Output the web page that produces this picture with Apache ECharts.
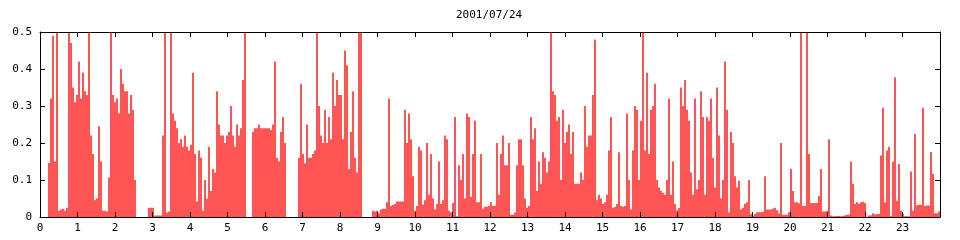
<!DOCTYPE html>
<html>
<head>
<meta charset="utf-8">
<script src="https://cdn.jsdelivr.net/npm/echarts@6/dist/echarts.min.js"></script>
<style>
html,body{margin:0;padding:0;background:#fff;}
#chart{width:960px;height:240px;}
</style>
</head>
<body>
<div id="chart"></div>
<script>
// Title / axis text
const chartTitle = '2001/07/24';
const xTickLabels = ['0','1','2','3','4','5','6','7','8','9','10','11','12','13','14','15','16','17','18','19','20','21','22','23'];
const yMin = 0, yMax = 0.5, yStep = 0.1;

// Values: 450 consecutive samples over 24 hours (3.2 min each)
const values = [
  0,0,0,0,0.146,0.32,0.49,0.15,0.5,0.017,
  0.02,0.022,0.017,0.025,0.5,0.47,0.35,0.31,0.33,0.42,
  0.32,0.39,0.34,0.33,0.5,0.22,0.17,0.045,0.05,0.245,
  0.15,0.017,0.017,0.015,0.107,0.5,0.33,0.31,0.32,0.28,
  0.4,0.36,0.34,0.34,0.28,0.33,0.29,0.1,0,0,
  0,0,0,0,0.025,0.025,0.025,0.004,0.004,0.004,
  0.004,0.22,0.5,0.012,0.015,0.5,0.28,0.26,0.24,0.2,
  0.21,0.19,0.22,0.19,0.18,0.195,0.39,0.17,0.042,0.18,
  0.16,0.017,0.1,0.049,0.19,0.07,0.13,0.12,0.34,0.25,
  0.22,0.22,0.2,0.22,0.23,0.3,0.22,0.19,0.25,0.22,
  0.24,0.37,0.5,0,0,0,0.23,0.24,0.24,0.25,
  0.24,0.24,0.24,0.24,0.24,0.235,0.25,0.42,0.16,0.15,
  0.23,0.27,0.2,0,0,0,0,0,0,0.16,
  0.36,0.17,0.145,0.25,0.16,0.16,0.17,0.18,0.5,0.3,
  0.22,0.2,0.29,0.2,0.27,0.21,0.39,0.3,0.37,0.33,
  0.33,0.21,0.45,0.41,0.13,0.23,0.34,0.16,0.12,0.5,
  0.5,0,0,0,0,0,0.017,0.015,0.017,0.01,
  0.02,0.022,0.022,0.04,0.32,0.03,0.033,0.035,0.042,0.042,
  0.042,0.042,0.29,0.2,0.28,0.21,0.11,0.017,0.03,0.19,
  0.18,0.033,0.045,0.2,0.06,0.17,0.05,0.02,0.035,0.15,
  0.035,0.045,0.22,0.21,0.017,0.013,0.038,0.27,0.002,0.14,
  0.1,0.17,0.05,0.28,0.27,0.055,0.17,0.26,0.04,0.04,
  0.17,0.022,0.028,0.028,0.03,0.04,0.03,0.03,0.2,0.06,
  0.17,0.22,0.14,0.14,0.2,0.006,0.006,0.012,0.14,0.21,
  0.21,0.14,0.05,0.025,0.03,0.27,0.21,0.24,0.07,0.15,
  0.09,0.175,0.16,0.12,0.15,0.5,0.34,0.33,0.26,0.27,
  0.1,0.29,0.2,0.23,0.25,0.17,0.23,0.09,0.09,0.09,
  0.12,0.1,0.3,0.19,0.22,0.22,0.33,0.48,0.045,0.06,
  0.05,0.035,0.04,0.06,0.18,0.27,0.025,0.027,0.035,0.175,
  0.03,0.028,0.03,0.28,0.1,0.02,0.18,0.3,0.29,0.1,
  0.26,0.5,0.18,0.39,0.17,0.29,0.3,0.36,0.1,0.08,
  0.07,0.065,0.06,0.1,0.32,0.06,0.15,0.035,0.018,0.024,
  0.35,0.3,0.37,0.29,0.26,0.12,0.06,0.32,0.075,0.1,
  0.34,0.27,0.06,0.27,0.26,0.32,0.16,0.08,0.35,0.22,
  0.05,0.1,0.42,0.29,0.012,0.23,0.2,0.11,0.08,0.098,
  0.02,0.025,0.036,0.04,0.1,0.008,0.004,0.008,0.013,0.013,
  0.013,0.014,0.11,0.02,0.02,0.02,0.023,0.025,0.018,0.01,
  0.2,0.006,0.006,0.006,0.013,0.13,0.07,0.04,0.04,0.037,
  0.5,0.03,0.03,0.5,0.17,0.038,0.038,0.038,0.038,0.057,
  0.13,0.015,0.015,0.016,0.21,0.004,0.002,0.002,0.003,0.003,
  0.002,0.003,0.005,0.006,0.006,0.15,0.09,0.035,0.04,0.036,
  0.04,0.041,0.038,0.001,0.004,0.005,0.01,0.007,0.008,0.008,
  0.166,0.295,0.04,0.18,0.19,0.002,0.149,0.378,0.044,0.143,
  0.017,0.008,0.002,0.002,0.002,0.123,0.017,0.224,0.032,0.033,
  0.033,0.295,0.03,0.031,0.031,0.176,0.117,0.01,0.01,0.015
];

// Category labels (sample start times, hh:mm)
const categories = values.map((_, i) => {
  const m = Math.round(i * 24 * 60 / values.length);
  return String(Math.floor(m / 60)).padStart(2, '0') + ':' + String(m % 60).padStart(2, '0');
});

const FONT = 'DejaVu Sans Mono';
const axisCommon = {
  min: 0, max: xTickLabels.length, interval: 1,
  z: 10,
  splitLine: {show: false},
  axisLine: {show: true, onZero: false, lineStyle: {color: '#000', width: 1}},
  axisTick: {show: true, inside: true, length: 5, lineStyle: {color: '#000', width: 1}}
};

const chart = echarts.init(document.getElementById('chart'), null, {renderer: 'canvas'});
chart.setOption({
  animation: false,
  backgroundColor: '#fff',
  title: {
    text: chartTitle,
    left: 456, top: 10, padding: 0,
    textStyle: {fontFamily: FONT, fontSize: 11, fontWeight: 'normal', color: '#000'}
  },
  grid: {left: 40, right: 20, top: 32, bottom: 23, containLabel: false, outerBoundsMode: 'none'},
  xAxis: [
    {type: 'category', data: categories, show: false, boundaryGap: true},
    Object.assign({}, axisCommon, {
      type: 'value', position: 'bottom',
      axisLabel: {
        show: true, margin: 6, color: '#000', fontFamily: FONT, fontSize: 11,
        formatter: v => (v < xTickLabels.length ? xTickLabels[Math.round(v)] : '')
      }
    }),
    Object.assign({}, axisCommon, {
      type: 'value', position: 'top',
      axisLabel: {show: false}
    })
  ],
  yAxis: [
    {
      type: 'value', position: 'left', min: yMin, max: yMax, interval: yStep, z: 10,
      splitLine: {show: false},
      axisLine: {show: true, onZero: false, lineStyle: {color: '#000', width: 1}},
      axisTick: {show: true, inside: true, length: 5, lineStyle: {color: '#000', width: 1}},
      axisLabel: {margin: 8, color: '#000', fontFamily: FONT, fontSize: 11}
    },
    {
      type: 'value', position: 'right', min: yMin, max: yMax, interval: yStep, z: 10,
      splitLine: {show: false},
      axisLine: {show: true, onZero: false, lineStyle: {color: '#000', width: 1}},
      axisTick: {show: true, inside: true, length: 5, lineStyle: {color: '#000', width: 1}},
      axisLabel: {show: false}
    }
  ],
  series: [{
    type: 'bar',
    xAxisIndex: 0, yAxisIndex: 0,
    data: values,
    barCategoryGap: '0%', barGap: '0%',
    itemStyle: {color: '#ff5555'},
    emphasis: {disabled: true},
    clip: true
  }]
});
</script>
</body>
</html>
